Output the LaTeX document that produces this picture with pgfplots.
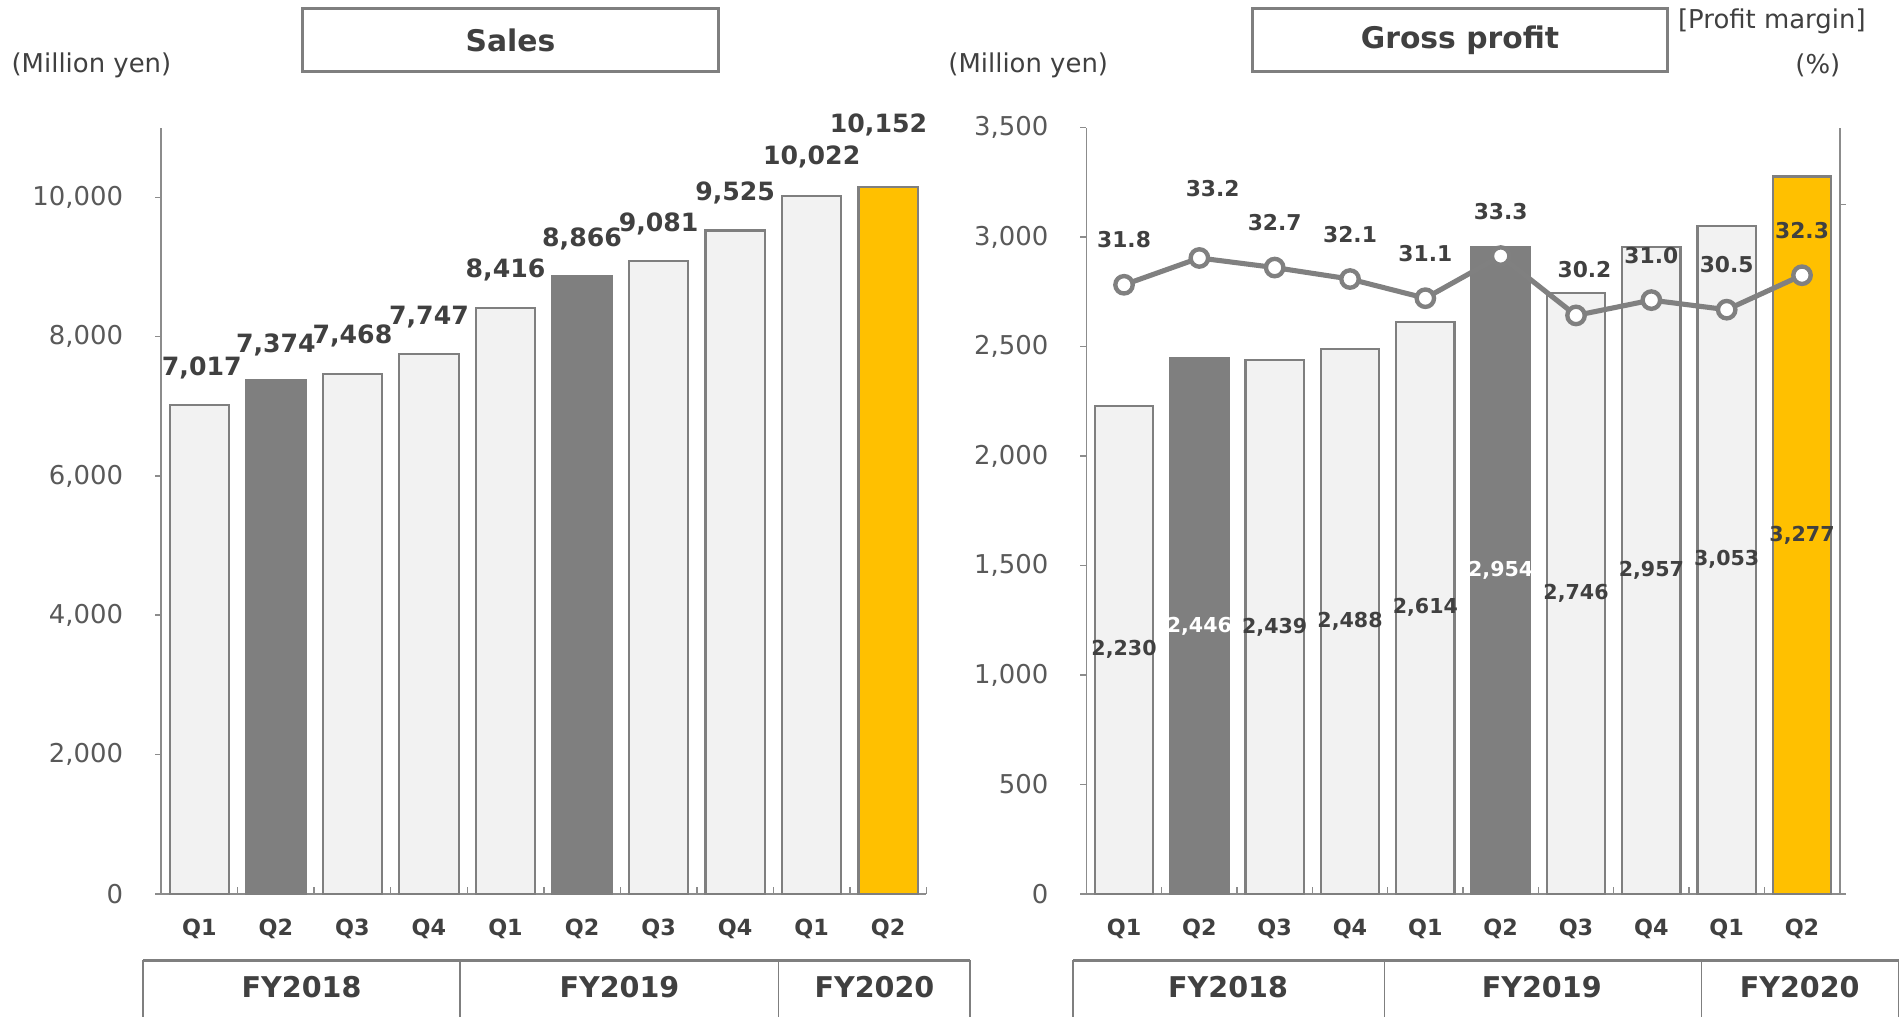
\documentclass[border=0pt]{standalone}
\usepackage{pgfplots}
\pgfplotsset{compat=1.18}
\usepackage{pgfplotstable}
\usepackage{fontspec}
\setmainfont{DejaVu Sans}

\definecolor{barlight}{HTML}{F2F2F2}
\definecolor{bardark}{HTML}{7F7F7F}
\definecolor{baryellow}{HTML}{FFC000}
\definecolor{edgegrey}{HTML}{7F7F7F}
\definecolor{axisgrey}{HTML}{8C8C8C}
\definecolor{textdark}{HTML}{404040}
\definecolor{ticktext}{HTML}{595959}
\definecolor{linegrey}{HTML}{808080}

% ---------- Sales (million yen) ----------
\pgfplotstableread{
x y
0 7017
2 7468
3 7747
4 8416
6 9081
7 9525
8 10022
}\salesLight
\pgfplotstableread{
x y
1 7374
5 8866
}\salesDark
\pgfplotstableread{
x y
9 10152
}\salesNow
% value labels: x/y of the bar, shifts in pt
\pgfplotstableread{
x y dx dy
0 7017 1 15.5
1 7374 0 14.5
2 7468 0 15.5
3 7747 0 15.5
4 8416 0 15.5
5 8866 0 15.5
6 9081 0 15.5
7 9525 0 15.5
8 10022 0 16
9 10152 -4 25.5
}\salesLabels

% ---------- Gross profit (million yen) ----------
\pgfplotstableread{
x y
0 2230
2 2439
3 2488
4 2614
6 2746
7 2957
8 3053
}\gpLight
\pgfplotstableread{
x y
1 2446
5 2954
}\gpDark
\pgfplotstableread{
x y
9 3277
}\gpNow

% ---------- Profit margin (%) ----------
\pgfplotstableread{
x m dx dy
0 31.8 0 18.5
1 33.2 5.5 28.8
2 32.7 0 18.5
3 32.1 0 18.5
4 31.1 0 18.5
5 33.3 0 18.5
6 30.2 3.5 19
7 31.0 0 18.5
8 30.5 0 18.5
9 32.3 0 18.5
}\margin

\pgfplotsset{
  quarterly/.style={
    scale only axis, height=316.25pt,
    xmin=-0.5, xmax=9.5,
    xtick={0,...,9},
    xticklabels={Q1,Q2,Q3,Q4,Q1,Q2,Q3,Q4,Q1,Q2},
    minor xtick={-0.5,0.5,...,9.5},
    major x tick style={draw=none},
    minor x tick style={draw=axisgrey, line width=0.6pt},
    axis x line*=bottom, axis y line*=left,
    xtick align=inside, ytick align=outside,
    axis line style={draw=axisgrey, line width=0.7pt},
    y tick style={draw=axisgrey, line width=0.6pt},
    major tick length=2.5pt, minor tick length=3pt,
    scaled y ticks=false,
    /pgf/number format/.cd, fixed, 1000 sep={,}, assume math mode=true,
    /pgfplots/.cd,
    yticklabel style={font=\fontsize{10.7}{12}\selectfont, text=ticktext, inner sep=0pt},
    yticklabel shift=13pt,
    xticklabel style={font=\fontsize{9.2}{10}\selectfont\bfseries, text=textdark, anchor=center, yshift=-14.5pt},
    clip=false,
  },
  bars/.style={ybar, bar shift=0pt, bar width=0.775, draw=edgegrey, line width=0.9pt},
}

\begin{document}
\begin{tikzpicture}
% ---------- headers ----------
\node[text=textdark, font=\fontsize{10.7}{12}\selectfont] at (37.75pt,392.5pt) {(Million yen)};
\draw[edgegrey, line width=1.3pt, fill=white] (125pt,390pt) rectangle (296.5pt,416pt);
\node[text=textdark, font=\fontsize{12.3}{14}\selectfont\bfseries] at (210.75pt,403pt) {Sales};

\node[text=textdark, font=\fontsize{10.7}{12}\selectfont] at (424.5pt,392.5pt) {(Million yen)};
\draw[edgegrey, line width=1.3pt, fill=white] (517pt,390pt) rectangle (688.5pt,416pt);
\node[text=textdark, font=\fontsize{12.3}{14}\selectfont\bfseries] at (602.75pt,403pt) {Gross profit};
\node[text=textdark, font=\fontsize{10.7}{12}\selectfont] at (731.5pt,410.5pt) {[Profit margin]};
\node[text=textdark, font=\fontsize{10.7}{12}\selectfont] at (750.5pt,392.5pt) {(\%)};

% ---------- Sales chart ----------
\begin{axis}[quarterly, at={(66.5pt,50.5pt)}, anchor=south west, width=316pt,
  ymin=0, ymax=11000, ytick={0,2000,...,10000}]
\addplot[bars, fill=barlight] table[x=x,y=y]{\salesLight};
\addplot[bars, fill=bardark] table[x=x,y=y]{\salesDark};
\addplot[bars, fill=baryellow] table[x=x,y=y]{\salesNow};
\addplot[draw=none, mark=none, point meta=\thisrow{y},
  visualization depends on={\thisrow{dx} \as \ldx},
  visualization depends on={\thisrow{dy} \as \ldy},
  nodes near coords={\pgfmathprintnumber[fixed,precision=0,1000 sep={,},assume math mode=true]{\pgfplotspointmeta}},
  nodes near coords align=center,
  every node near coord/.append style={xshift=\ldx pt, yshift=\ldy pt, text=textdark,
    font=\fontsize{10.4}{12}\selectfont\bfseries}]
  table[x=x,y=y]{\salesLabels};
\end{axis}

% ---------- Gross profit chart ----------
\begin{axis}[quarterly, at={(448.5pt,50.5pt)}, anchor=south west, width=311pt,
  ymin=0, ymax=3500, ytick={0,500,...,3500}]
\addplot[bars, fill=barlight] table[x=x,y=y]{\gpLight};
\addplot[bars, fill=bardark] table[x=x,y=y]{\gpDark};
\addplot[bars, fill=baryellow] table[x=x,y=y]{\gpNow};
% value labels in the middle of each bar
\addplot[draw=none, mark=none, point meta=\thisrow{y},
  nodes near coords={\pgfmathprintnumber[fixed,precision=0,1000 sep={,},assume math mode=true]{\pgfplotspointmeta}},
  nodes near coords align=center,
  every node near coord/.append style={text=textdark, font=\fontsize{8.5}{10}\selectfont\bfseries}]
  table[x=x,y expr=\thisrow{y}/2]{\gpLight};
\addplot[draw=none, mark=none, point meta=\thisrow{y},
  nodes near coords={\pgfmathprintnumber[fixed,precision=0,1000 sep={,},assume math mode=true]{\pgfplotspointmeta}},
  nodes near coords align=center,
  every node near coord/.append style={text=white, font=\fontsize{8.5}{10}\selectfont\bfseries}]
  table[x=x,y expr=\thisrow{y}/2]{\gpDark};
\addplot[draw=none, mark=none, point meta=\thisrow{y},
  nodes near coords={\pgfmathprintnumber[fixed,precision=0,1000 sep={,},assume math mode=true]{\pgfplotspointmeta}},
  nodes near coords align=center,
  every node near coord/.append style={text=textdark, font=\fontsize{8.5}{10}\selectfont\bfseries}]
  table[x=x,y expr=\thisrow{y}/2]{\gpNow};
\end{axis}

% ---------- Profit margin, secondary axis ----------
\begin{axis}[at={(448.5pt,50.5pt)}, anchor=south west, scale only axis,
  width=311pt, height=316.25pt, xmin=-0.5, xmax=9.5, ymin=0, ymax=40,
  axis x line=none, axis y line*=right, ytick={0,36}, yticklabels={},
  ytick align=outside, major tick length=2.5pt,
  axis line style={draw=axisgrey, line width=0.7pt},
  y tick style={draw=axisgrey, line width=0.6pt}, clip=false]
\addplot[linegrey, line width=2.1pt, mark=*, mark size=3.6pt,
  mark options={fill=white, draw=linegrey, line width=1.8pt},
  point meta=\thisrow{m},
  visualization depends on={\thisrow{dx} \as \ldx},
  visualization depends on={\thisrow{dy} \as \ldy},
  nodes near coords={\pgfmathprintnumber[fixed,fixed zerofill,precision=1,assume math mode=true]{\pgfplotspointmeta}},
  nodes near coords align=center,
  every node near coord/.append style={xshift=\ldx pt, yshift=\ldy pt, text=textdark,
    font=\fontsize{9}{10}\selectfont\bfseries}]
  table[x=x,y=m]{\margin};
\end{axis}

% ---------- fiscal year tables ----------
\draw[edgegrey, line width=1.3pt] (59pt,23pt) -- (400.5pt,23pt);
\foreach \xx in {59,190,321.5,400.5} \draw[edgegrey, line width=0.6pt] (\xx pt,23pt) -- (\xx pt,-2pt);
\node[text=textdark, font=\fontsize{11.8}{13}\selectfont\bfseries] at (124.5pt,12pt) {FY2018};
\node[text=textdark, font=\fontsize{11.8}{13}\selectfont\bfseries] at (255.75pt,12pt) {FY2019};
\node[text=textdark, font=\fontsize{11.8}{13}\selectfont\bfseries] at (361pt,12pt) {FY2020};

\draw[edgegrey, line width=1.3pt] (443pt,23pt) -- (786pt,23pt);
\foreach \xx in {443,571.5,702.5,783.7} \draw[edgegrey, line width=0.6pt] (\xx pt,23pt) -- (\xx pt,-2pt);
\node[text=textdark, font=\fontsize{11.8}{13}\selectfont\bfseries] at (507pt,12pt) {FY2018};
\node[text=textdark, font=\fontsize{11.8}{13}\selectfont\bfseries] at (636.5pt,12pt) {FY2019};
\node[text=textdark, font=\fontsize{11.8}{13}\selectfont\bfseries] at (743pt,12pt) {FY2020};

\pgfresetboundingbox
\path[use as bounding box] (0pt,0pt) rectangle (784pt,419.5pt);
\end{tikzpicture}
\end{document}
